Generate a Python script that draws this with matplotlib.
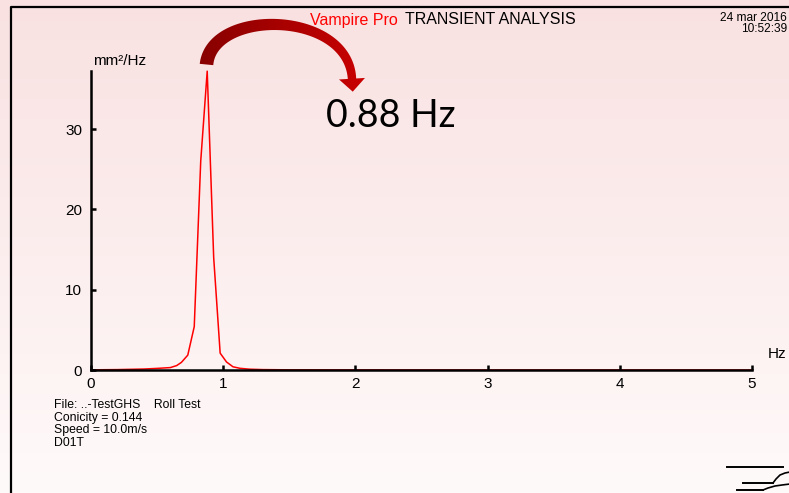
import numpy as np
import matplotlib
matplotlib.use("Agg")
import matplotlib.pyplot as plt
from matplotlib.patches import Polygon
from matplotlib.colors import to_rgb

# spectrum (Hz, mm^2/Hz)
freq = [0.0, 0.2, 0.4, 0.5, 0.6, 0.648, 0.684, 0.732, 0.781, 0.830, 0.879,
        0.928, 0.977, 1.025, 1.074, 1.127, 1.2, 1.3, 1.5, 2.0, 3.0, 5.0]
psd = [0.02, 0.05, 0.12, 0.2, 0.3, 0.55, 0.95, 1.85, 5.4, 26.0, 37.2,
       14.0, 2.1, 1.0, 0.4, 0.21, 0.1, 0.05, 0.02, 0.01, 0.0, 0.0]
xticks = [0, 1, 2, 3, 4, 5]
yticks = [0, 10, 20, 30]
peak_label = "0.88 Hz"
info_lines = ["File: ..-TestGHS    Roll Test", "Conicity = 0.144",
              "Speed = 10.0m/s", "D01T"]

W, H = 789, 493
FONT = "Liberation Sans"
fig = plt.figure(figsize=(W / 100, H / 100), dpi=100)

# --- background gradient (pink top -> near white bottom) ---
bg = fig.add_axes([0, 0, 1, 1], zorder=-10)
top, bot = np.array(to_rgb("#f9e1e1")), np.array(to_rgb("#fffafa"))
s = np.linspace(0, 1, 256)[:, None]
grad = (top * (1 - s) + bot * s)[:, None, :]
bg.imshow(grad, aspect="auto", extent=[0, 1, 0, 1])
bg.axis("off")

# --- main plot ---
ax = fig.add_axes([91 / W, 1 - 370 / H, 661 / W, 299.3 / H])
ax.patch.set_alpha(0)
ax.plot(freq, psd, color="#ff0000", lw=1.1, zorder=1, clip_on=False)
ax.set_xlim(0, 5)
ax.set_ylim(0, 37.26)
ax.set_xticks(xticks)
ax.set_yticks(yticks)
for sp in ["top", "right"]:
    ax.spines[sp].set_visible(False)
for sp in ["left", "bottom"]:
    ax.spines[sp].set_linewidth(1.8)
    ax.spines[sp].set_zorder(3)
ax.tick_params(direction="in", length=3.5, width=1.8, labelsize=11)
ax.tick_params(axis="y", pad=6.5)
ax.tick_params(axis="x", pad=5)
for lab in ax.get_xticklabels() + ax.get_yticklabels():
    lab.set_fontfamily(FONT)

# --- overlay in pixel coordinates for the decorations ---
ov = fig.add_axes([0, 0, 1, 1], zorder=5)
ov.patch.set_alpha(0)
ov.axis("off")

# frame
ov.plot([11, 11, W + 2], [H + 2, 7, 7], color="black", lw=1.6, clip_on=False)

ov.text(310, 20, "Vampire Pro", color="#ff0000", fontsize=11.5, family=FONT, va="center")
ov.text(405, 20, "TRANSIENT ANALYSIS", color="black", fontsize=11.5, family=FONT, va="center")
ov.text(787, 18, "24 mar 2016", fontsize=8.6, family=FONT, va="center", ha="right")
ov.text(787, 29, "10:52:39", fontsize=8.6, family=FONT, va="center", ha="right")

ov.text(93, 61, "mm²/Hz", fontsize=11, family=FONT, va="center")
ov.text(768, 354, "Hz", fontsize=11, family=FONT, va="center")
ov.text(326, 127, peak_label, fontsize=27, family="Lato", va="baseline")

for i, line in enumerate(info_lines):
    ov.text(54, 405 + i * 12.6, line, fontsize=8.8, family=FONT, va="center")

# curved arrow (cubic bezier shaft tapering into a head)
P = np.array([[206.5, 64.5], [212, 8], [348, 10], [352, 78.7]])
t = np.linspace(0, 1, 120)[:, None]
B = ((1 - t) ** 3) * P[0] + 3 * ((1 - t) ** 2) * t * P[1] + 3 * (1 - t) * t ** 2 * P[2] + t ** 3 * P[3]
dB = 3 * (1 - t) ** 2 * (P[1] - P[0]) + 6 * (1 - t) * t * (P[2] - P[1]) + 3 * t ** 2 * (P[3] - P[2])
dB = dB / np.linalg.norm(dB, axis=1)[:, None]
nrm = np.column_stack([-dB[:, 1], dB[:, 0]])
half = (6.8 - 2.6 * t)
left = B + nrm * half
right = B - nrm * half
d1, n1 = dB[-1], nrm[-1]
head = [P[3] + n1 * 13, P[3] + d1 * 13, P[3] - n1 * 13]
pts = np.vstack([left, head, right[::-1]])
arrow = Polygon(pts, closed=True, facecolor="none", edgecolor="none")
ov.add_patch(arrow)
c0, c1 = np.array(to_rgb("#860000")), np.array(to_rgb("#cc0000"))
u = np.linspace(0, 1, 200)[None, :, None]
agrad = c0 * (1 - u) + c1 * u
im = ov.imshow(agrad, aspect="auto", extent=[195, 372, 98, 12], zorder=4)
im.set_clip_path(arrow)

# logo lines bottom right
ov.plot([727, 783], [467, 467], color="black", lw=1.4, clip_on=False)
ov.plot([743, 773], [483, 483], color="black", lw=1.4, clip_on=False)
ov.plot([737, 763], [490, 490], color="black", lw=1.4, clip_on=False)
ov.plot([773, 776, 780, 785, 790], [483, 479, 475, 473, 472], color="black", lw=1.2, clip_on=False)
ov.plot([763, 768, 775, 782, 790], [490, 488, 486, 485, 484], color="black", lw=1.2, clip_on=False)

ov.set_xlim(0, W)
ov.set_ylim(H, 0)

fig.savefig("out.png", dpi=100)
